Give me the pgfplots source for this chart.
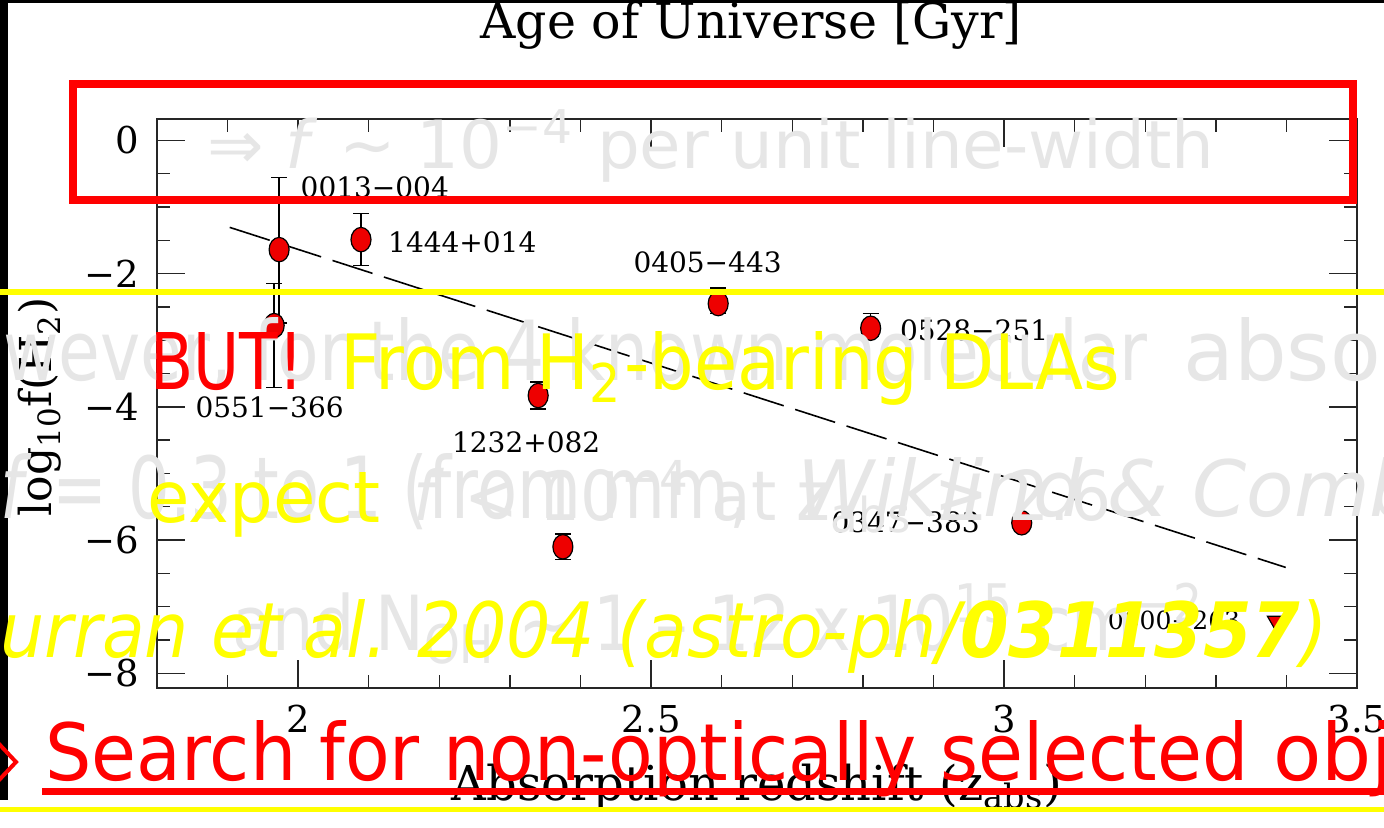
\documentclass[border=0pt]{standalone}
\usepackage{fontspec}
\setmainfont{DejaVu Serif}
\newfontfamily\ovf{DejaVu Sans}
\usepackage{graphicx}
\usepackage{pgfplots}
\pgfplotsset{compat=1.18}
\usepackage{pgfplotstable}
\definecolor{ghost}{RGB}{230,230,230}
\definecolor{pptred}{RGB}{255,0,0}
\definecolor{pptyel}{RGB}{255,255,0}
\definecolor{ptred}{RGB}{238,0,0}

\pgfplotstableread{
x y ep em
1.973 -1.64 1.08 1.10
1.966 -2.78 0.63 0.93
2.089 -1.49 0.39 0.39
2.340 -3.83 0.20 0.20
2.375 -6.10 0.19 0.19
2.595 -2.45 0.23 0.15
2.811 -2.82 0.22 0.12
3.025 -5.74 0.00 0.00
}\detections

\pgfplotstableread{
x y
3.389 -7.24
}\uplims

\pgfplotstableread{
x y
1.903 -1.306
3.399 -6.41
}\fitline

\newcommand{\lbl}{\fontsize{14}{16}\selectfont}
\newcommand{\ovt}[6]{\node[anchor=base west,inner sep=0pt,text=#5] at (#1,#2) {\resizebox{#3}{#4}{\ovf #6}};}

\begin{document}
\begin{tikzpicture}
\useasboundingbox (0,0) rectangle (692pt,-413.5pt);
\clip (0,0) rectangle (692pt,-413.5pt);
\begin{scope}[x=0.5pt,y=-0.5pt]
  \fill[white] (0,0) rectangle (1384,827);
  \fill[black] (0,0) rectangle (8,800);
  \fill[black] (0,0) rectangle (1384,3);
\end{scope}

\begin{axis}[
  at={(78.5pt,-344pt)}, anchor=south west,
  scale only axis, width=600pt, height=284.5pt,
  xmin=1.8, xmax=3.5, ymin=-8.22, ymax=0.32,
  xtick={2,2.5,3,3.5}, xticklabels={2,2.5,3,3.5},
  minor xtick={1.9,2.1,2.2,2.3,2.4,2.6,2.7,2.8,2.9,3.1,3.2,3.3,3.4},
  ytick={0,-2,-4,-6,-8}, yticklabels={0,−2,−4,−6,−8},
  minor ytick={-7.5,-7,-6.5,-5.5,-5,-4.5,-3.5,-3,-2.5,-1.5,-1,-0.5},
  tick align=inside, major tick length=14pt, minor tick length=6.5pt,
  every tick/.style={black!85, line width=0.7pt},
  axis line style={black!85, line width=1pt},
  ticklabel style={font=\fontsize{18.5}{20}\selectfont},
  yticklabel style={xshift=-5.5pt},
  xticklabel style={yshift=-5pt},
  clip=false,
  xlabel={Absorption redshift (z\textsubscript{abs})},
  xlabel style={at={(axis description cs:0.5,-0.197)}, anchor=base, yshift=0pt, inner sep=0pt, font=\fontsize{24}{26}\selectfont},
  ylabel={log\textsubscript{10}f(H\textsubscript{2})},
  ylabel style={at={(axis description cs:-0.0975,0.494)}, anchor=center, inner sep=0pt, font=\fontsize{22}{24}\selectfont},
]
\addplot[black, line width=0.8pt, dash pattern=on 21pt off 6pt] table {\fitline};
\addplot[only marks, mark=*, mark size=5pt,
  mark options={fill=ptred, draw=black, line width=0.6pt, yscale=1.22},
  error bars/.cd, y dir=both, y explicit,
  error bar style={black, line width=0.8pt},
  error mark options={black, line width=0.8pt, mark size=4pt, rotate=90}]
  table[x=x, y=y, y error plus=ep, y error minus=em] {\detections};
\addplot[only marks, mark=triangle*, mark size=6.5pt,
  mark options={fill=ptred, draw=black, line width=0.6pt, rotate=180}] table {\uplims};

\node[anchor=base, inner sep=0pt, font=\fontsize{24.5}{26}\selectfont] at (axis description cs:0.495,1.142) {Age of Universe [Gyr]};

\node[anchor=west, inner sep=0pt, font=\lbl] at (axis cs:2.003,-0.71) {0013−004};
\node[anchor=west, inner sep=0pt, font=\lbl] at (axis cs:2.127,-1.53) {1444+014};
\node[anchor=center, inner sep=0pt, font=\lbl] at (axis cs:2.580,-1.83) {0405−443};
\node[anchor=west, inner sep=0pt, font=\lbl] at (axis cs:2.852,-2.85) {0528−251};
\node[anchor=west, inner sep=0pt, font=\lbl] at (axis cs:1.854,-4.01) {0551−366};
\node[anchor=center, inner sep=0pt, font=\lbl] at (axis cs:2.323,-4.53) {1232+082};
\node[anchor=east, inner sep=0pt, font=\lbl] at (axis cs:2.966,-5.74) {0347−383};
\node[anchor=east, inner sep=0pt, font=\fontsize{12.5}{14}\selectfont] at (axis cs:3.335,-7.21) {0000−263};
\end{axis}

\begin{scope}[x=0.5pt,y=-0.5pt]
  % faded (ghost) text
  \ovt{207}{168}{503.5pt}{29pt}{ghost}{⇒ \textit{f} ∼ 10\textsuperscript{−4} per unit line-width}
  \ovt{3}{380}{572pt}{31.5pt}{ghost}{wever, for the 4 known molecular}
  \node[anchor=base west,inner sep=0pt,text=ghost] at (1183,380) {\resizebox{!}{31.5pt}{\ovf absorbers}};
  \ovt{0}{518}{375pt}{32.5pt}{ghost}{\textit{f} = 0.3 to 1 (from mm,}
  \node[anchor=base west,inner sep=0pt,text=ghost] at (797,516) {\resizebox{!}{29.5pt}{\ovf\itshape Wiklind \& Combes)}};
  \ovt{413}{520}{349pt}{30pt}{ghost}{\textit{f} < 10\textsuperscript{−4} at z\textsubscript{abs} ≥ 2.6}
  \ovt{232}{650}{486.5pt}{33.5pt}{ghost}{and N\textsubscript{OH} ∼ 1 – 12 x 10\textsuperscript{15} cm\textsuperscript{−2}}
  % frames and lines
  \draw[pptred, line width=4pt] (73,84) rectangle (1353,200);
  \draw[pptyel, line width=2.8pt] (0,292) -- (1384,292);
  \draw[pptyel, line width=2.5pt] (0,809) -- (1384,809);
  % coloured text
  \ovt{150}{389}{76.5pt}{28.5pt}{pptred}{BUT!}
  \ovt{340}{389}{390pt}{29pt}{pptyel}{From H\textsubscript{2}-bearing DLAs}
  \ovt{147}{522}{116.5pt}{25pt}{pptyel}{expect}
  \node[anchor=base east,inner sep=0pt,text=pptyel] at (0,657) {\resizebox{!}{29pt}{\ovf\itshape C}};
  \ovt{0}{657}{663.5pt}{29pt}{pptyel}{\itshape urran et al. 2004 (astro-ph/\textbf{0311357})}
  \ovt{45}{780}{601.5pt}{30pt}{pptred}{Search for non-optically selected}
  \node[anchor=base west,inner sep=0pt,text=pptred] at (1273,780) {\resizebox{!}{30pt}{\ovf objects}};
  \draw[pptred, line width=3.5pt] (42,791) -- (1384,791);
  \draw[pptred, line width=2pt] (-16,762) -- (0,745) -- (16,762) -- (0,779) -- cycle;
\end{scope}
\end{tikzpicture}
\end{document}
